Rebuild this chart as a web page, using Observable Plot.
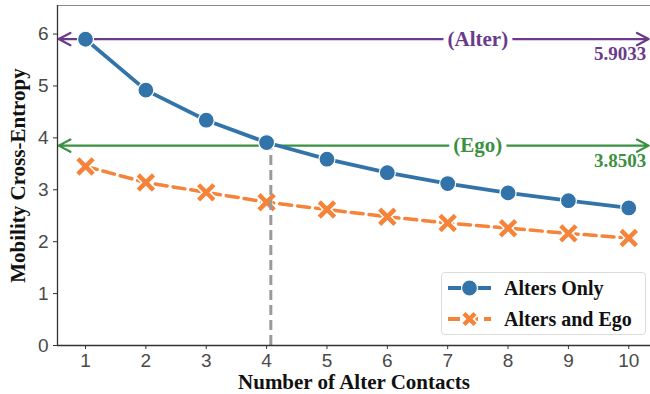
<!DOCTYPE html>
<html><head><meta charset="utf-8">
<script src="https://cdn.jsdelivr.net/npm/d3@7"></script>
<script src="https://cdn.jsdelivr.net/npm/@observablehq/plot@0.6"></script>
<style>
body{margin:0;background:#fff;}
#wrap{position:relative;width:650px;height:394px;overflow:hidden;}
#legend{position:absolute;left:441px;top:272px;width:203px;height:61px;border:1px solid #dcdcdc;border-radius:4px;background:#fff;}
#legend text{font-family:"Liberation Serif","Times New Roman",serif;font-weight:bold;font-size:20px;fill:#111;}
</style></head><body><div id="wrap"></div>
<script>
const contacts = [1,2,3,4,5,6,7,8,9,10];
const altersOnly = [5.90,4.92,4.34,3.91,3.59,3.33,3.12,2.94,2.79,2.65];
const altersAndEgo = [3.45,3.14,2.95,2.76,2.62,2.48,2.36,2.26,2.16,2.07];
const seriesNames = ["Alters Only","Alters and Ego"];
const seriesColors = ["#3274a9","#f5843a"];
const refLabels = ["(Alter)","(Ego)"];
const refValues = [5.9033, 3.8503];
const refColors = ["#6b3a8c","#3b9141"];
const crossX = 4.07;
const xTicks = contacts;
const yTicks = [0,1,2,3,4,5,6];
const xLabel = "Number of Alter Contacts";
const yLabel = "Mobility Cross-Entropy";

const xDomain = [0.536, 10.36];
const yDomain = [0, 6.55];
const serif = "Liberation Serif, Times New Roman, serif";
const sansN = "Liberation Sans Narrow, Arial Narrow, Liberation Sans, sans-serif";

const dataA = contacts.map((x,i)=>({x, y: altersOnly[i]}));
const dataB = contacts.map((x,i)=>({x, y: altersAndEgo[i]}));
const refs = refValues.map((v,i)=>({v, label: refLabels[i], color: refColors[i]}));

const chart = Plot.plot({
  width: 650, height: 394,
  marginLeft: 57, marginRight: 0, marginTop: 5, marginBottom: 49,
  style: {background: "#fff", overflow: "visible"},
  x: {domain: xDomain, label: null},
  y: {domain: yDomain, label: null},
  color: {type: "identity"},
  marks: [
    Plot.ruleY([yDomain[1]], {stroke: "#8a8a8a", strokeWidth: 1}),
    Plot.arrow(refs, {x1: 7.5, x2: xDomain[0] + 0.02, y1: "v", y2: "v", stroke: d => d.color, strokeWidth: 2.2, headLength: 9, headAngle: 55}),
    Plot.arrow(refs, {x1: 7.5, x2: 10.33, y1: "v", y2: "v", stroke: d => d.color, strokeWidth: 2.2, headLength: 9, headAngle: 55}),
    Plot.text(refs, {x: 7.5, y: "v", text: "label", fill: d => d.color, stroke: "white", strokeWidth: 10, fontSize: 21, fontWeight: "bold", fontFamily: serif}),
    Plot.text(refs, {x: 10.29, y: "v", text: d => d.v.toFixed(4), fill: d => d.color, textAnchor: "end", dy: 15, fontSize: 19, fontWeight: "bold", fontFamily: serif}),
    Plot.line(dataB, {x: "x", y: "y", stroke: seriesColors[1], strokeWidth: 3.5, strokeDasharray: "12,6"}),
    Plot.dot(dataB, {x: "x", y: "y", symbol: "times", r: 7, stroke: "white", strokeWidth: 7.5}),
    Plot.dot(dataB, {x: "x", y: "y", symbol: "times", r: 7, stroke: seriesColors[1], strokeWidth: 4.5}),
    Plot.ruleX([crossX], {y1: 0, y2: refValues[1], stroke: "#9a9a9a", strokeWidth: 3, strokeDasharray: "10,5"}),
    Plot.line(dataA, {x: "x", y: "y", stroke: seriesColors[0], strokeWidth: 3.8}),
    Plot.dot(dataA, {x: "x", y: "y", r: 8, fill: seriesColors[0], stroke: "white", strokeWidth: 1.2}),
    Plot.ruleX([xDomain[0]], {stroke: "#333", strokeWidth: 1.3}),
    Plot.ruleY([0], {stroke: "#333", strokeWidth: 1.3}),
    Plot.axisX({ticks: xTicks, tickSize: 4, tickPadding: 4, tickFormat: "d", stroke: "#333", fill: "#4a4a4a", fontSize: 19, fontFamily: sansN, label: null}),
    Plot.axisY({ticks: yTicks, tickSize: 4, tickPadding: 5, tickFormat: "d", stroke: "#333", fill: "#4a4a4a", fontSize: 19, fontFamily: sansN, label: null}),
    Plot.text([xLabel], {frameAnchor: "bottom", lineAnchor: "middle", dy: 37, text: d => d, fontSize: 21, fontWeight: "bold", fontFamily: serif, fill: "#111"}),
    Plot.text([yLabel], {frameAnchor: "left", textAnchor: "middle", lineAnchor: "middle", dx: -39, rotate: -90, text: d => d, fontSize: 21, fontWeight: "bold", fontFamily: serif, fill: "#111"})
  ]
});
const wrap = document.getElementById("wrap");
wrap.appendChild(chart);

// legend
const leg = document.createElement("div");
leg.id = "legend";
const svg = d3.select(leg).append("svg").attr("width", 203).attr("height", 61);
seriesNames.forEach((name, i) => {
  const y = 15 + i * 31;
  const g = svg.append("g");
  g.append("line").attr("x1", 6).attr("x2", 49).attr("y1", y).attr("y2", y)
    .attr("stroke", seriesColors[i]).attr("stroke-width", 3.8)
    .attr("stroke-dasharray", i === 1 ? "12,6" : null);
  if (i === 0) {
    g.append("circle").attr("cx", 27.5).attr("cy", y).attr("r", 8).attr("fill", seriesColors[0]).attr("stroke", "white").attr("stroke-width", 1.2);
  } else {
    const s = 5.5;
    const p = `M${27.5-s},${y-s}L${27.5+s},${y+s}M${27.5-s},${y+s}L${27.5+s},${y-s}`;
    g.append("path").attr("d", p).attr("stroke", "white").attr("stroke-width", 7.5).attr("fill", "none");
    g.append("path").attr("d", p).attr("stroke", seriesColors[1]).attr("stroke-width", 4.5).attr("fill", "none");
  }
  g.append("text").attr("x", 62).attr("y", y).attr("dy", "0.35em").text(name);
});
wrap.appendChild(leg);
</script></body></html>
